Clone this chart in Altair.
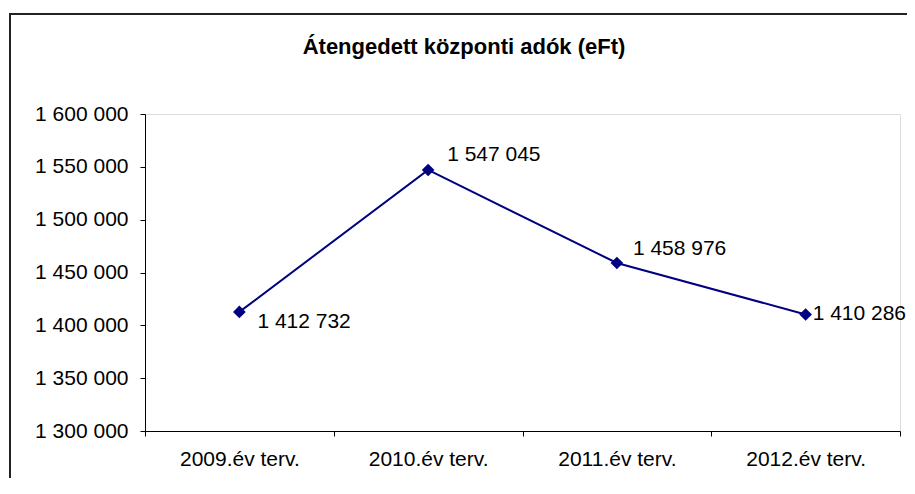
import altair as alt
import pandas as pd

categories = ["2009.év terv.", "2010.év terv.", "2011.év terv.", "2012.év terv."]
values = [1412732, 1547045, 1458976, 1410286]
y_ticks = [1300000, 1350000, 1400000, 1450000, 1500000, 1550000, 1600000]
title_text = "Átengedett központi adók (eFt)"

df = pd.DataFrame({"cat": categories, "value": values})

FONT = "Liberation Sans"
NAVY = "#000080"
FS = 21
fmt_expr = "replace(format(datum.value, ','), regexp(',', 'g'), ' ')"

x_enc = alt.X(
    "cat:N",
    sort=categories,
    bandPosition=0.5,
    scale=alt.Scale(type="band", paddingInner=0, paddingOuter=0),
    axis=alt.Axis(
        title=None, labelAngle=0, tickBand="extent", tickSize=5,
        labelPadding=12, labelFont=FONT, labelFontSize=FS, labelColor="black",
        domainColor="black", tickColor="black", grid=False,
    ),
)
y_enc = alt.Y(
    "value:Q",
    scale=alt.Scale(domain=[1300000, 1600000], nice=False, zero=False),
    axis=alt.Axis(
        title=None, values=y_ticks, labelExpr=fmt_expr, tickSize=5,
        labelPadding=12, labelFont=FONT, labelFontSize=FS, labelColor="black",
        domainColor="black", tickColor="black", grid=False,
    ),
)

base = alt.Chart(df)

border = alt.Chart(alt.Data(values=[{}])).mark_rect(
    fillOpacity=0, stroke="#222222", strokeWidth=2
).encode(
    x=alt.value(-135), x2=alt.value(800), y=alt.value(-100), y2=alt.value(420)
)

title = alt.Chart(alt.Data(values=[{"t": title_text}])).mark_text(
    font=FONT, fontSize=22, fontWeight="bold", color="black",
    align="center", baseline="middle"
).encode(x=alt.value(319), y=alt.value(-67), text="t:N")

line = base.mark_line(color=NAVY, strokeWidth=2).encode(x=x_enc, y=y_enc)
points = base.mark_point(
    shape="diamond", size=160, filled=True, color=NAVY, opacity=1
).encode(x=x_enc, y=y_enc)

offsets = [(18, 10), (19, -15), (16, -14), (7, 0)]
text_layers = []
for cat, (dx, dy) in zip(categories, offsets):
    text_layers.append(
        base.transform_filter(alt.datum.cat == cat)
        .transform_calculate(label=fmt_expr)
        .mark_text(align="left", baseline="middle", dx=dx, dy=dy,
                   font=FONT, fontSize=FS, color="black")
        .encode(x=x_enc, y=y_enc, text="label:N")
    )

chart = alt.layer(border, title, line, points, *text_layers).properties(
    width=755,
    height=317,
    autosize=alt.AutoSizeParams(type="none"),
    padding={"left": 137, "top": 106, "right": 7, "bottom": 47},
).configure_view(stroke=None).configure(background="white")

chart.save("out.html", embed_options={"renderer": "svg", "actions": False})
